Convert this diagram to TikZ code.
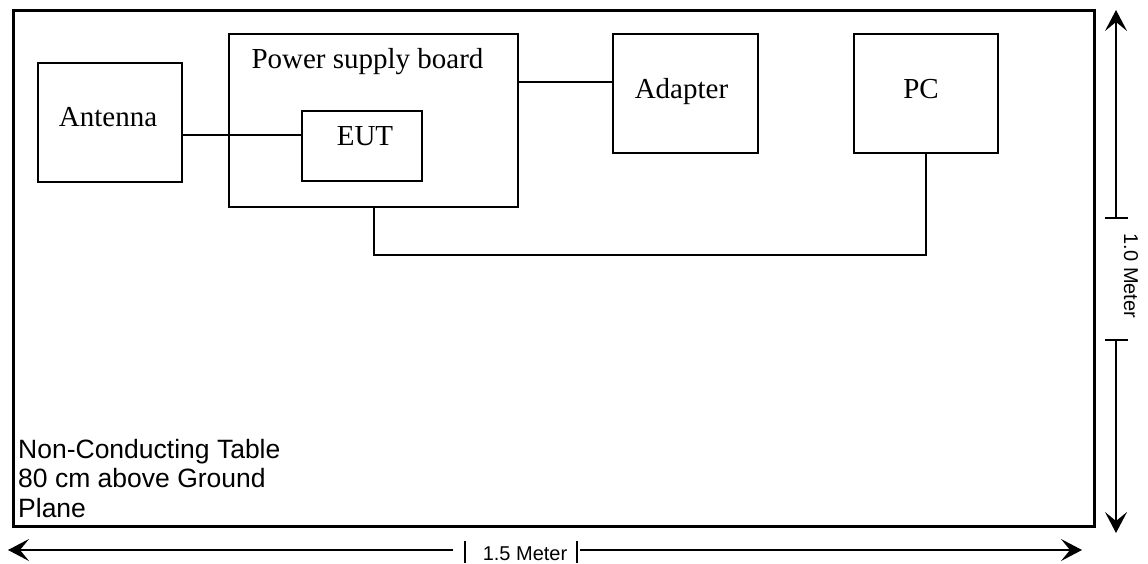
\documentclass[tikz,border=0pt]{standalone}
\usepackage{fontspec}
\setmainfont{Liberation Serif}
\newfontfamily\arialf{Liberation Sans}
\usetikzlibrary{arrows.meta}
\begin{document}
\begin{tikzpicture}[x=1pt,y=-1pt,
  box/.style={draw, line width=1.5pt, inner sep=0pt},
  lbl/.style={font=\fontsize{29}{34}\selectfont, inner sep=0pt, anchor=base},
  wire/.style={line width=1.5pt},
  dim/.style={line width=1.5pt},
  dimtip/.style={-{Stealth[length=21pt,width=22pt,inset=9pt]}},
  dimtext/.style={font=\arialf\fontsize{20}{24}\selectfont, inner sep=0pt}]
\useasboundingbox (0,0) rectangle (1148,564);
% table
\node[draw, line width=3pt, minimum width=1080.5pt, minimum height=515pt, inner sep=0pt] (table) at (553.75,268.5) {};
% boxes
\node[box, minimum width=144pt, minimum height=119pt] (ant) at (110,122.5) {};
\node[lbl] (antl) at (108,127) {Antenna};
\node[box, minimum width=289pt, minimum height=173pt] (psb) at (373.5,120.5) {};
\node[lbl] (psbl) at (367.5,69) {Power supply board};
\node[box, minimum width=120pt, minimum height=70pt] (eut) at (362,146) {};
\node[lbl] (eutl) at (365,146) {EUT};
\node[box, minimum width=145pt, minimum height=119pt] (adp) at (685.5,93.5) {};
\node[lbl] (adpl) at (681.5,98.5) {Adapter};
\node[box, minimum width=144pt, minimum height=119pt] (pc) at (926,93.5) {};
\node[lbl] (pcl) at (921,98.5) {PC};
% connectors
\coordinate (y1) at (0,135);
\coordinate (y2) at (0,82);
\coordinate (x3) at (374,255);
\draw[wire] (ant.east |- y1) -- (eut.west |- y1);
\draw[wire] (psb.east |- y2) -- (adp.west |- y2);
\draw[wire] (psb.south -| x3) -- (x3) -| (pc.south);
% table text
\node[font=\arialf\fontsize{26.5}{29.5}\selectfont, align=left, anchor=north west, inner sep=0pt] (tt) at (18,439) {Non-Conducting Table\\80 cm above Ground\\Plane};
% horizontal dimension
\coordinate (hl) at (8,550);
\coordinate (hr) at (1082,550);
\draw[dim, dimtip] (453,550) -- (hl);
\draw[dim, dimtip] (580,550) -- (hr);
\draw[dim] (465,541) -- (465,563);
\draw[dim] (577,541) -- (577,563);
\node[dimtext, anchor=base] (hlab) at (525,560) {1.5 Meter};
% vertical dimension
\coordinate (vt) at (1116,10);
\coordinate (vb) at (1116,533);
\draw[dim, dimtip] (1116,218) -- (vt);
\draw[dim, dimtip] (1116,340) -- (vb);
\draw[dim] (1105,218) -- (1128,218);
\draw[dim] (1105,340) -- (1128,340);
\node[dimtext, rotate=-90] (vlab) at (1131,276) {1.0 Meter};
\end{tikzpicture}
\end{document}
